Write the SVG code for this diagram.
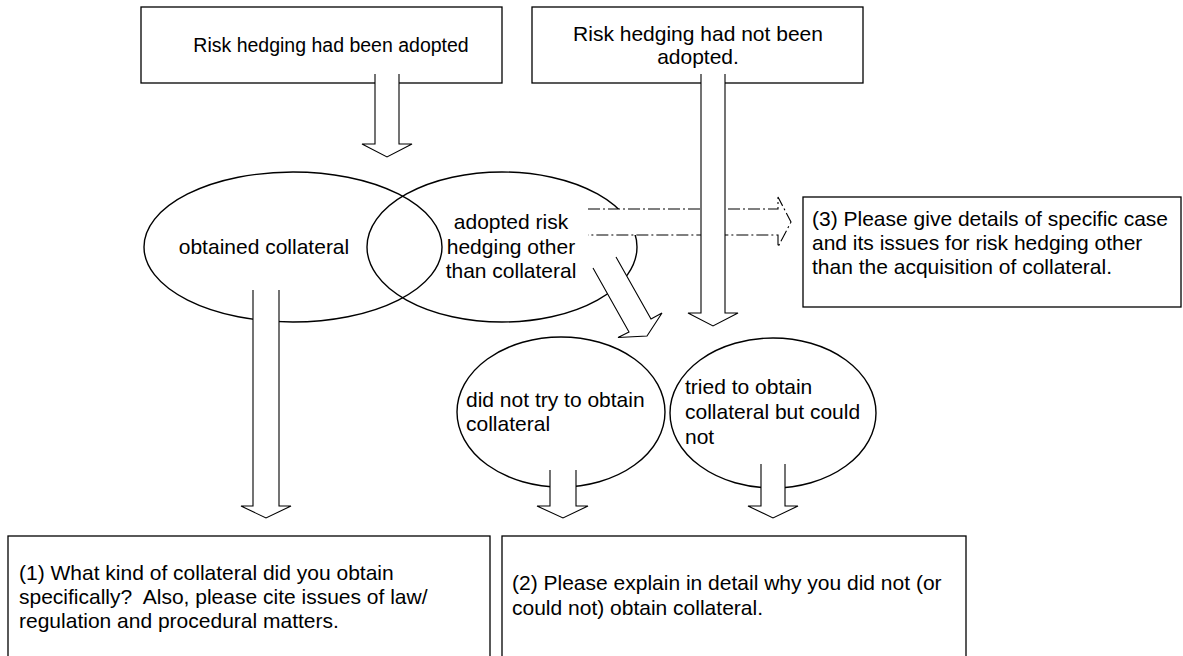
<svg xmlns="http://www.w3.org/2000/svg" width="1183" height="656" viewBox="0 0 1183 656">
<style>
.box{fill:#fff;stroke:#000;stroke-width:1.3}
.ell{fill:none;stroke:#000;stroke-width:1.4}
.af{fill:#fff;stroke:none}
.al{fill:none;stroke:#000;stroke-width:1.1;stroke-linejoin:miter}
.dd{stroke-dasharray:12 3 2 3}
text{font-family:"Liberation Sans",Arial,Helvetica,sans-serif;font-size:21px;fill:#000}
.m{text-anchor:middle}
.pre{white-space:pre}
</style>
<g id="node-adopted">
<rect class="box" x="141" y="7" width="361" height="76"/>
<text class="m" x="331" y="52" style="font-size:19.5px">Risk hedging had been adopted</text>
</g>
<g id="node-not-adopted">
<rect class="box" x="532" y="7" width="331" height="76"/>
<text class="m" x="698" y="41">Risk hedging had not been</text>
<text class="m" x="698" y="64">adopted.</text>
</g>
<g id="node-obtained">
<ellipse class="ell" cx="293" cy="247" rx="149" ry="75"/>
<text class="m" x="264" y="254">obtained collateral</text>
</g>
<g id="node-other">
<ellipse class="ell" cx="502" cy="247" rx="135" ry="75"/>
<text class="m" x="511" y="229">adopted risk</text>
<text class="m" x="511" y="254">hedging other</text>
<text class="m" x="511" y="278">than collateral</text>
</g>
<g id="node-not-try">
<ellipse class="ell" cx="561" cy="412" rx="104" ry="75"/>
<text x="466" y="407">did not try to obtain</text>
<text x="466" y="431">collateral</text>
</g>
<g id="node-tried">
<ellipse class="ell" cx="773" cy="413" rx="103" ry="75"/>
<text x="685" y="394">tried to obtain</text>
<text x="685" y="419">collateral but could</text>
<text x="685" y="444">not</text>
</g>
<g id="node-q1">
<rect class="box" x="8" y="536" width="482" height="130"/>
<text x="19" y="580">(1) What kind of collateral did you obtain</text>
<text class="pre" x="19" y="604">specifically?  Also, please cite issues of law/</text>
<text x="19" y="628">regulation and procedural matters.</text>
</g>
<g id="node-q2">
<rect class="box" x="502" y="536" width="464" height="130"/>
<text x="512" y="590">(2) Please explain in detail why you did not (or</text>
<text x="512" y="615">could not) obtain collateral.</text>
</g>
<g id="node-q3">
<rect class="box" x="803" y="197" width="378" height="110"/>
<text x="812" y="226">(3) Please give details of specific case</text>
<text x="812" y="250">and its issues for risk hedging other</text>
<text x="812" y="274">than the acquisition of collateral.</text>
</g>
<g id="connectors">
<polygon class="af" points="375,74 375,144 362,144 387,157 412,144 399,144 399,74"/>
<polyline class="al" points="375,74 375,144 362,144 387,157 412,144 399,144 399,74"/>
<polygon class="af" points="588,209 778,209 778,197 791,222 778,247 778,235 588,235"/>
<polyline class="al dd" points="588,209 778,209 778,197 791,222 778,247 778,235 588,235"/>
<polygon class="af" points="701,74 701,313 688,313 713,326 738,313 725,313 725,74"/>
<polyline class="al" points="701,74 701,313 688,313 713,326 738,313 725,313 725,74"/>
<polygon class="af" points="593,268 629,332 618,337.5 647,336 662,313 651,319 616,257"/>
<polyline class="al" points="593,268 629,332 618,337.5 647,336 662,313 651,319 616,257"/>
<polygon class="af" points="253,290 253,506 241,506 266,518 291,506 279,506 279,290"/>
<polyline class="al" points="253,290 253,506 241,506 266,518 291,506 279,506 279,290"/>
<polygon class="af" points="550,470 550,506 537,506 563,518 588,506 576,506 576,470"/>
<polyline class="al" points="550,470 550,506 537,506 563,518 588,506 576,506 576,470"/>
<polygon class="af" points="761,464 761,506 748,506 773,518 798,506 785,506 785,464"/>
<polyline class="al" points="761,464 761,506 748,506 773,518 798,506 785,506 785,464"/>
</g>
</svg>
